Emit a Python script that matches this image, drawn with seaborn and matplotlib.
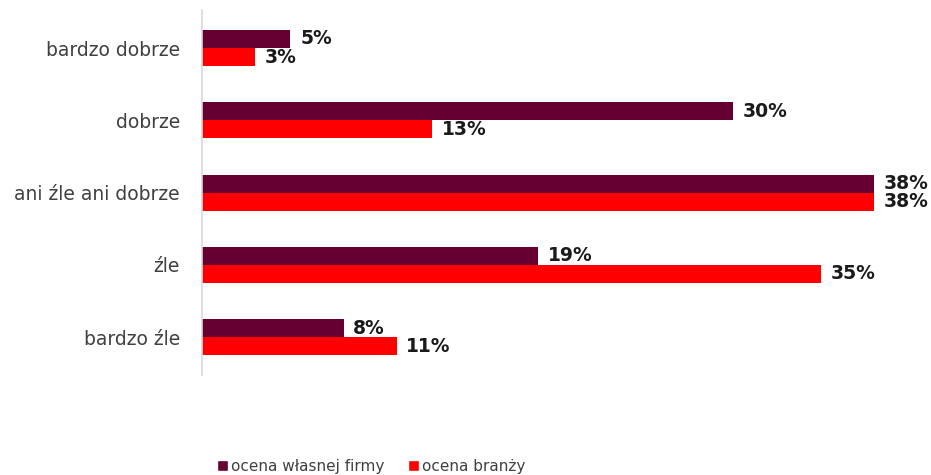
import matplotlib
matplotlib.use("Agg")
import matplotlib.pyplot as plt
import seaborn as sns
import pandas as pd
from matplotlib.patches import Patch

categories = ["bardzo dobrze", "dobrze", "ani źle ani dobrze", "źle", "bardzo źle"]
series_names = ["ocena własnej firmy", "ocena branży"]
own_firm = [5, 30, 38, 19, 8]
industry = [3, 13, 38, 35, 11]
colors = ["#660033", "#FF0000"]

df = pd.DataFrame({
    "kategoria": categories * 2,
    "seria": [series_names[0]] * len(categories) + [series_names[1]] * len(categories),
    "wartosc": own_firm + industry,
})

sns.set_style("white")
plt.rcParams["font.family"] = ["DejaVu Sans"]

fig = plt.figure(figsize=(9.31, 4.75), dpi=100)
ax = fig.add_axes([0.217, 0.211, 0.76, 0.768])

sns.barplot(data=df, y="kategoria", x="wartosc", hue="seria", order=categories,
            hue_order=series_names, palette=colors, width=0.5, orient="h",
            ax=ax, legend=False, saturation=1, linewidth=0)

for container in ax.containers:
    ax.bar_label(container, labels=[f"{int(v)}%" for v in container.datavalues],
                 padding=7, fontsize=13.5, fontweight="bold", color="#1a1a1a")

ax.set_xlim(0, 40)
ax.set_ylim(4.52, -0.526)
ax.set_xlabel("")
ax.set_ylabel("")
ax.set_xticks([])
ax.tick_params(axis="y", length=0, labelsize=13.5, pad=16, labelcolor="#404040")
for s in ["top", "right", "bottom"]:
    ax.spines[s].set_visible(False)
ax.spines["left"].set_color("#d9d9d9")
ax.spines["left"].set_linewidth(1.2)

handles = [Patch(facecolor=c, label=n) for c, n in zip(colors, series_names)]
fig.legend(handles=handles, loc="center left", bbox_to_anchor=(0.218, 0.018),
           ncol=2, frameon=False, fontsize=11, handlelength=0.75, handleheight=0.75,
           handletextpad=0.2, columnspacing=1.5, labelcolor="#404040")

fig.savefig("out.png", dpi=100)
